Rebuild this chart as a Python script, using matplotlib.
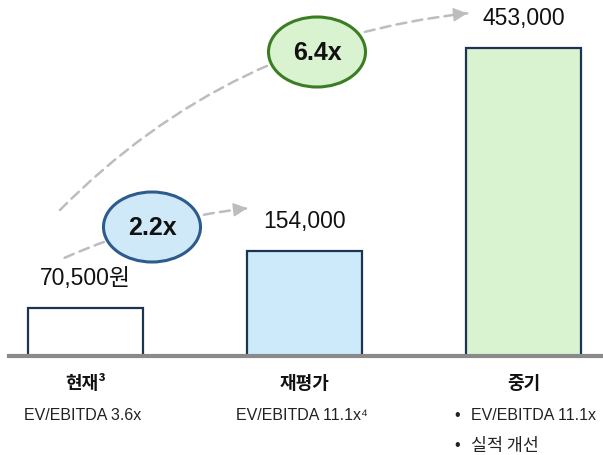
import matplotlib
matplotlib.use("Agg")
import numpy as np
import matplotlib.pyplot as plt
from matplotlib.patches import Ellipse, FancyArrowPatch

## Data
categories = ["현재³", "재평가", "중기"]
values = [70500, 154000, 453000]
value_labels = ["70,500원", "154,000", "453,000"]
sub_labels = ["EV/EBITDA 3.6x", "EV/EBITDA 11.1x⁴", None]
bullet_labels = ["EV/EBITDA 11.1x", "실적 개선"]
multiples = ["2.2x", "6.4x"]

bar_colors = ["#ffffff", "#cdeafa", "#d9f2d0"]
edge_color = "#1b3452"
W, H = 603, 456

latin = ["Liberation Sans", "Noto Sans CJK KR", "DejaVu Sans"]
korean = ["Noto Sans CJK KR", "Liberation Sans"]

fig = plt.figure(figsize=(W / 100, H / 100), dpi=100)
ax = fig.add_axes([0, 99 / H, 1, 357 / H])
x = [0, 1, 2]
ax.bar(x, values, width=0.525, color=bar_colors, edgecolor=edge_color, linewidth=1.6, zorder=2)
ax.set_xlim(-0.39, 2.363)
ax.set_ylim(0, 525000)
ax.axis("off")

## gray baseline
ax.axhline(0, xmin=9 / W, xmax=1, color="#8a8a8a", linewidth=3, clip_on=False, zorder=3)

for i in range(len(x)):
    ax.annotate(value_labels[i], (x[i], values[i]), xytext=(0, 22), textcoords="offset points",
                ha="center", va="center", fontsize=16.5, family=latin, color="#111111")
    ax.annotate(categories[i], (x[i], 0), xytext=(0, -19), textcoords="offset points",
                ha="center", va="center", fontsize=13, fontweight="bold", family=korean,
                color="#111111", annotation_clip=False)
    if sub_labels[i] is not None:
        ax.annotate(sub_labels[i], (x[i], 0), xytext=(-2, -42), textcoords="offset points",
                    ha="center", va="center", fontsize=11.5, family=latin,
                    color="#222222", annotation_clip=False)

## bullet list under the last bar
for j, b in enumerate(bullet_labels):
    ax.annotate("•", (x[2], 0), xytext=(-50, -42 - 22 * j), textcoords="offset points",
                ha="left", va="center", fontsize=11.5, family=latin,
                color="#222222", annotation_clip=False)
    fam = latin if j == 0 else korean
    ax.annotate(b, (x[2], 0), xytext=(-38, -42 - 22 * j), textcoords="offset points",
                ha="left", va="center", fontsize=11.5 if j == 0 else 12.5, family=fam,
                color="#222222", annotation_clip=False)


def px(a, b):
    ## pixel (from top-left) to figure fraction
    return (a / W, 1 - b / H)


def dashed_arrow(start, end, rad):
    ## dashed curved body plus a solid head (dashes would break the head)
    s = np.array(px(*start))
    e = np.array(px(*end))
    body = FancyArrowPatch(tuple(s), tuple(e), connectionstyle="arc3,rad=%s" % rad,
                           arrowstyle="-", color="#bdbdbd", linewidth=1.8,
                           linestyle=(0, (4, 2.5)), transform=fig.transFigure, zorder=1)
    fig.patches.append(body)
    ## tangent at the end of the arc3 bezier, in pixels
    sp = np.array([s[0] * W, s[1] * H])
    ep = np.array([e[0] * W, e[1] * H])
    d = ep - sp
    ctrl = (sp + ep) / 2 + rad * np.array([d[1], -d[0]])
    t = ep - ctrl
    t = t / np.hypot(*t)
    back = ep - 9 * t
    head = FancyArrowPatch((back[0] / W, back[1] / H), tuple(e),
                           arrowstyle="-|>,head_length=0.6,head_width=0.3",
                           color="#bdbdbd", linewidth=1.2, mutation_scale=14,
                           transform=fig.transFigure, zorder=1)
    fig.patches.append(head)


dashed_arrow((62, 260), (250, 209), -0.08)
dashed_arrow((58, 213), (470, 14), -0.18)

## multiple bubbles
bubbles = [((152, 228), "#cfe9f8", "#2d5b8c"), ((317, 53), "#d9f2d0", "#3a7d22")]
for (c, fc, ec), label in zip(bubbles, multiples):
    e = Ellipse(px(*c), 97 / W, 70 / H, transform=fig.transFigure,
                facecolor=fc, edgecolor=ec, linewidth=2.2, zorder=5)
    fig.patches.append(e)
    fig.text(*px(*c), label, ha="center", va="center", fontsize=18, fontweight="bold",
             family=latin, color="#111111", zorder=6)

fig.savefig("out.png", dpi=100)
